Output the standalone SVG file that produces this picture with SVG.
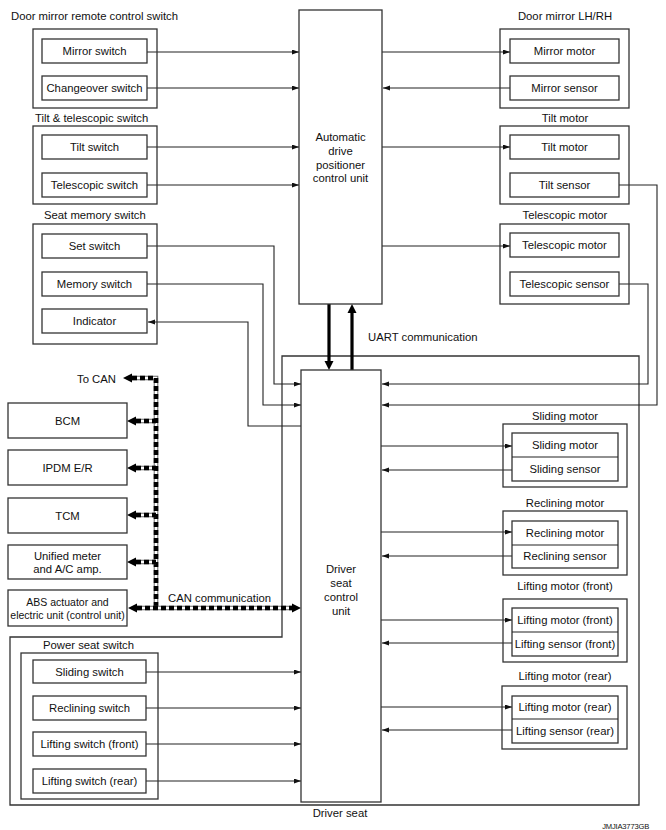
<svg xmlns="http://www.w3.org/2000/svg" width="666" height="830" viewBox="0 0 666 830">
<defs>
<style>
.box{fill:#fff;stroke:#333;stroke-width:1.3}
.grp{fill:none;stroke:#333;stroke-width:1.3}
.t{font-family:"Liberation Sans",Arial,sans-serif;font-size:11.3px;fill:#111}
.c{text-anchor:middle}
.ln{fill:none;stroke:#222;stroke-width:1.1}
.bus0{fill:none;stroke:#666;stroke-width:4.6}
.bus1{fill:none;stroke:#fff;stroke-width:2.6}
.bus2{fill:none;stroke:#000;stroke-width:4.6;stroke-dasharray:5 3}
.thick{fill:none;stroke:#000;stroke-width:3.2}
</style>
<marker id="ah" markerUnits="userSpaceOnUse" markerWidth="8" markerHeight="6" refX="7" refY="2.5" orient="auto">
<path d="M0,0 L7,2.5 L0,5 z" fill="#111"/>
</marker>
</defs>
<rect width="666" height="830" fill="#fff"/>

<g id="driver-seat">
<path class="grp" d="M282,356 H639 V805 H10 V637 H282 Z"/>
<text class="t c" x="340" y="817">Driver seat</text>
</g>

<g id="connectors">
<g class="ln" marker-end="url(#ah)">
<path d="M147,52 H299"/>
<path d="M147,88 H299"/>
<path d="M147,147 H299"/>
<path d="M147,185 H299"/>
<path d="M382,52 H510"/>
<path d="M510,88 H383"/>
<path d="M382,147 H510"/>
<path d="M382,246 H510"/>
<path d="M619,185 H657 V405 H382"/>
<path d="M619,284 H648 V384 H382"/>
<path d="M147,246 H274 V384 H301"/>
<path d="M147,284 H263 V405 H301"/>
<path d="M301,426 H248 V322 H148"/>
<path d="M381,446 H512"/>
<path d="M512,470 H382"/>
<path d="M381,532 H512"/>
<path d="M512,556 H382"/>
<path d="M381,620 H512"/>
<path d="M512,643 H382"/>
<path d="M381,707 H512"/>
<path d="M512,730 H382"/>
<path d="M146,672 H301"/>
<path d="M146,708 H301"/>
<path d="M146,744 H301"/>
<path d="M146,781 H301"/>
</g>
<g id="uart">
<path class="thick" d="M329,304 V362"/>
<polygon points="324.5,361 333.5,361 329,370" fill="#000"/>
<path class="thick" d="M352,370 V312"/>
<polygon points="347.5,313 356.5,313 352,304" fill="#000"/>
<text class="t" x="368" y="341">UART communication</text>
</g>
<g id="can">
<path class="bus0" d="M132,378 H156 V608"/>
<path class="bus1" d="M132,378 H156 V608"/>
<path class="bus2" d="M132,378 H156 V608"/>
<path class="bus0" d="M136,421 H156 M136,468 H156 M136,515 H156 M136,562 H156 M137,608 H292"/>
<path class="bus1" d="M136,421 H156 M136,468 H156 M136,515 H156 M136,562 H156 M137,608 H292"/>
<path class="bus2" d="M136,421 H156 M136,468 H156 M136,515 H156 M136,562 H156 M137,608 H292"/>
<g fill="#000">
<polygon points="123,378 132,373.5 132,382.5"/>
<polygon points="127,421 136,416.5 136,425.5"/>
<polygon points="127,468 136,463.5 136,472.5"/>
<polygon points="127,515 136,510.5 136,519.5"/>
<polygon points="127,562 136,557.5 136,566.5"/>
<polygon points="128,608 137,603.5 137,612.5"/>
<polygon points="301,608 292,603.5 292,612.5"/>
</g>
<text class="t" x="77" y="383">To CAN</text>
<text class="t" x="168" y="602">CAN communication</text>
</g>
</g>

<g id="door-mirror-remote-control-switch">
<text class="t" x="11" y="20">Door mirror remote control switch</text>
<rect class="grp" x="33" y="29" width="124" height="79"/>
<rect class="box" x="42" y="39" width="105" height="24"/>
<text class="t c" x="94.5" y="55">Mirror switch</text>
<rect class="box" x="42" y="76" width="105" height="24"/>
<text class="t c" x="94.5" y="92">Changeover switch</text>
</g>

<g id="tilt-telescopic-switch">
<text class="t" x="35" y="122">Tilt &amp; telescopic switch</text>
<rect class="grp" x="33" y="126" width="124" height="78"/>
<rect class="box" x="42" y="135" width="105" height="24"/>
<text class="t c" x="94.5" y="151">Tilt switch</text>
<rect class="box" x="42" y="173" width="105" height="24"/>
<text class="t c" x="94.5" y="189">Telescopic switch</text>
</g>

<g id="seat-memory-switch">
<text class="t" x="44" y="219">Seat memory switch</text>
<rect class="grp" x="33" y="224" width="124" height="120"/>
<rect class="box" x="42" y="234" width="105" height="24"/>
<text class="t c" x="94.5" y="250">Set switch</text>
<rect class="box" x="42" y="272" width="105" height="24"/>
<text class="t c" x="94.5" y="288">Memory switch</text>
<rect class="box" x="42" y="309" width="105" height="24"/>
<text class="t c" x="94.5" y="325">Indicator</text>
</g>

<g id="adp-control-unit">
<rect class="box" x="299" y="10" width="83" height="294"/>
<text class="t c" x="340.5" y="141">Automatic</text>
<text class="t c" x="340.5" y="155">drive</text>
<text class="t c" x="340.5" y="169">positioner</text>
<text class="t c" x="340.5" y="182">control unit</text>
</g>

<g id="door-mirror-lhrh">
<text class="t c" x="565" y="20">Door mirror LH/RH</text>
<rect class="grp" x="500" y="29" width="129" height="79"/>
<rect class="box" x="510" y="39" width="109" height="24"/>
<text class="t c" x="564.5" y="55">Mirror motor</text>
<rect class="box" x="510" y="76" width="109" height="24"/>
<text class="t c" x="564.5" y="92">Mirror sensor</text>
</g>

<g id="tilt-motor">
<text class="t c" x="565" y="122">Tilt motor</text>
<rect class="grp" x="500" y="126" width="129" height="78"/>
<rect class="box" x="510" y="135" width="109" height="24"/>
<text class="t c" x="564.5" y="151">Tilt motor</text>
<rect class="box" x="510" y="173" width="109" height="24"/>
<text class="t c" x="564.5" y="189">Tilt sensor</text>
</g>

<g id="telescopic-motor">
<text class="t c" x="565" y="219">Telescopic motor</text>
<rect class="grp" x="500" y="224" width="129" height="80"/>
<rect class="box" x="510" y="233" width="109" height="24"/>
<text class="t c" x="564.5" y="249">Telescopic motor</text>
<rect class="box" x="510" y="272" width="109" height="24"/>
<text class="t c" x="564.5" y="288">Telescopic sensor</text>
</g>

<g id="bcm">
<rect class="box" x="8" y="403" width="119" height="35"/>
<text class="t c" x="67.5" y="425">BCM</text>
</g>
<g id="ipdm">
<rect class="box" x="8" y="450" width="119" height="35"/>
<text class="t c" x="67.5" y="472">IPDM E/R</text>
</g>
<g id="tcm">
<rect class="box" x="8" y="498" width="119" height="35"/>
<text class="t c" x="67.5" y="520">TCM</text>
</g>
<g id="unified-meter">
<rect class="box" x="8" y="545" width="119" height="34"/>
<text class="t c" x="67.5" y="560">Unified meter</text>
<text class="t c" x="67.5" y="573">and A/C amp.</text>
</g>
<g id="abs">
<rect class="box" x="8" y="590" width="119" height="36"/>
<text class="t c" x="67.5" y="606" style="font-size:10.5px">ABS actuator and</text>
<text class="t c" x="67.5" y="619" style="font-size:10.5px">electric unit (control unit)</text>
</g>

<g id="driver-seat-control-unit">
<rect class="box" x="301" y="370" width="80" height="432"/>
<text class="t c" x="341" y="573">Driver</text>
<text class="t c" x="341" y="587">seat</text>
<text class="t c" x="341" y="601">control</text>
<text class="t c" x="341" y="615">unit</text>
</g>

<g id="sliding-motor">
<text class="t c" x="565" y="420">Sliding motor</text>
<rect class="grp" x="503" y="424" width="124" height="63"/>
<rect class="box" x="512" y="433" width="106" height="48"/>
<line class="ln" x1="512" y1="457" x2="618" y2="457"/>
<text class="t c" x="565" y="449">Sliding motor</text>
<text class="t c" x="565" y="473">Sliding sensor</text>
</g>

<g id="reclining-motor">
<text class="t c" x="565" y="507">Reclining motor</text>
<rect class="grp" x="503" y="511" width="124" height="64"/>
<rect class="box" x="512" y="521" width="106" height="47"/>
<line class="ln" x1="512" y1="545" x2="618" y2="545"/>
<text class="t c" x="565" y="537">Reclining motor</text>
<text class="t c" x="565" y="560">Reclining sensor</text>
</g>

<g id="lifting-motor-front">
<text class="t c" x="565" y="590">Lifting motor (front)</text>
<rect class="grp" x="503" y="599" width="124" height="63"/>
<rect class="box" x="512" y="608" width="106" height="48"/>
<line class="ln" x1="512" y1="632" x2="618" y2="632"/>
<text class="t c" x="565" y="624">Lifting motor (front)</text>
<text class="t c" x="565" y="648">Lifting sensor (front)</text>
</g>

<g id="lifting-motor-rear">
<text class="t c" x="565" y="680">Lifting motor (rear)</text>
<rect class="grp" x="502" y="686" width="125" height="63"/>
<rect class="box" x="512" y="696" width="106" height="47"/>
<line class="ln" x1="512" y1="719" x2="618" y2="719"/>
<text class="t c" x="565" y="711">Lifting motor (rear)</text>
<text class="t c" x="565" y="735">Lifting sensor (rear)</text>
</g>

<g id="power-seat-switch">
<text class="t" x="43" y="649">Power seat switch</text>
<rect class="grp" x="21" y="653" width="137" height="146"/>
<rect class="box" x="33" y="660" width="113" height="23"/>
<text class="t c" x="89.5" y="676">Sliding switch</text>
<rect class="box" x="33" y="696" width="113" height="24"/>
<text class="t c" x="89.5" y="712">Reclining switch</text>
<rect class="box" x="33" y="732" width="113" height="24"/>
<text class="t c" x="89.5" y="748">Lifting switch (front)</text>
<rect class="box" x="33" y="769" width="113" height="24"/>
<text class="t c" x="89.5" y="785">Lifting switch (rear)</text>
</g>

<text x="649" y="829" text-anchor="end" style="font-family:'Liberation Sans',Arial,sans-serif;font-size:7.6px;letter-spacing:-0.2px;fill:#111">JMJIA3773GB</text>
</svg>
